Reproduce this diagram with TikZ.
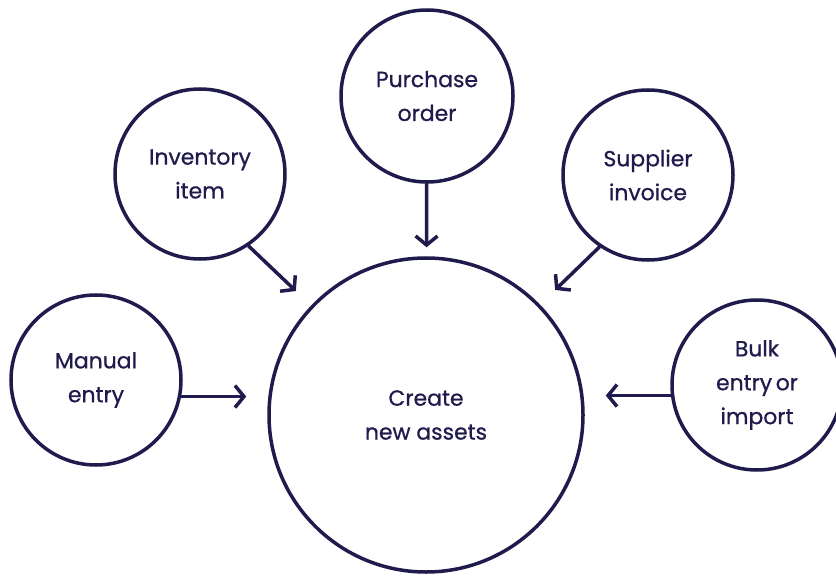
\documentclass[tikz,border=0pt]{standalone}
\usepackage{fontspec}
\setmainfont[FakeBold=0.8]{Poppins}
\usetikzlibrary{arrows.meta}
\definecolor{navy}{RGB}{32,27,77}

\begin{document}
\begin{tikzpicture}[x=1bp, y=-1bp,
	bubble/.style={circle, draw=navy, line width=3.5bp, minimum size=170bp, inner sep=0pt, align=center, text=navy, font=\fontsize{22}{34}\selectfont},
	flow/.style={draw=navy, line width=3.5bp, line cap=round, -{Straight Barb[length=9bp, width=22bp]}, shorten >=21bp}]
	\useasboundingbox (0,0) rectangle (836,577);
	\node[bubble, minimum size=314bp] (new) at (426,415) {Create\\new assets};
	\node[bubble] (man) at (96,380) {Manual\\entry};
	\node[bubble] (inv) at (200,174) {Inventory\\item};
	\node[bubble, minimum size=172bp] (po) at (427,96) {Purchase\\order};
	\node[bubble] (sup) at (648,175) {Supplier\\invoice};
	\node[bubble] (bulk) at (757,385) {Bulk\\entry\,or\\import};
	
	\draw[flow] (man.-11) -- (man.-11 -| new.west);
	\draw[flow] (inv.-56) -- (new);
	\draw[flow, shorten >=9bp] (po) -- (new);
	\draw[flow] (sup.236) -- (new);
	\draw[flow] (bulk.187) -- (bulk.187 -| new.east);
\end{tikzpicture}
\end{document}
